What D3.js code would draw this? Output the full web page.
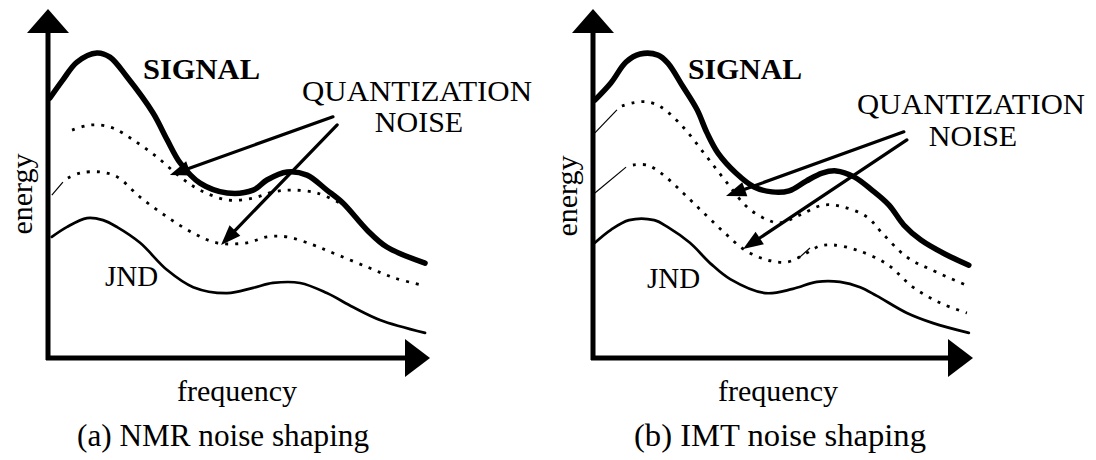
<!DOCTYPE html>
<html><head><meta charset="utf-8">
<script src="https://cdn.jsdelivr.net/npm/d3@7"></script>
<style>
body{margin:0;background:#fff}
svg text{font-family:"Liberation Serif","Times New Roman",serif;fill:#000}
</style>
</head><body>
<svg id="chart" width="1096" height="460"></svg>
<script>
// ---------------- DATA (frequency 0-100 along x axis, energy 0-100 along y axis) ----------------
const captions = ["(a) NMR noise shaping", "(b) IMT noise shaping"];
const xLabel = "frequency";
const yLabel = "energy";
const signalLabel = "SIGNAL";
const noiseLabelLines = ["QUANTIZATION", "NOISE"];
const jndLabel = "JND";

// Panel (a) NMR
const aSignalFreq = [0.5, 3.9, 7.6, 12.8, 16.2, 20.7, 27.5, 31.2, 34.6, 39.8, 46.9, 53.7, 57.3, 62.6, 67.8, 73.0, 77.2, 83.5, 88.7, 98.7];
const aSignalEnergy = [74.5, 79.7, 84.8, 87.4, 86.2, 80.5, 70.2, 62.5, 55.9, 50.1, 47.3, 48.1, 51.0, 53.3, 52.4, 48.1, 44.4, 36.7, 31.8, 27.2];
const aNoiseHiFreq = [6.3, 9.7, 12.8, 17.0, 22.3, 28.5, 34.6, 39.8, 46.9, 53.7, 58.9, 64.1, 70.4, 76.4];
const aNoiseHiEnergy = [65.3, 66.5, 66.8, 65.9, 62.5, 57.6, 51.9, 48.1, 45.3, 45.8, 47.6, 48.1, 47.3, 44.4];
const aNoiseLoFreq = [5.2, 8.4, 13.6, 18.1, 24.1, 31.2, 38.0, 44.2, 52.1, 57.3, 62.6, 69.4, 74.6, 83.5, 90.8, 97.9];
const aNoiseLoEnergy = [51.6, 53.0, 53.3, 51.9, 46.1, 40.4, 35.8, 33.0, 33.0, 34.7, 34.7, 32.4, 30.1, 26.1, 22.9, 20.9];
const aJndFreq = [1.0, 4.9, 10.2, 14.4, 18.1, 24.1, 31.2, 38.0, 46.9, 53.7, 58.9, 66.0, 73.0, 79.8, 86.9, 98.7];
const aJndEnergy = [34.7, 37.5, 40.1, 39.5, 37.5, 33.0, 25.2, 20.3, 18.6, 20.1, 21.5, 21.5, 18.6, 14.6, 10.9, 7.2];
const aStrokeFreq = [[1.0, 3.9]];            // thin pen strokes joining dotted line to axis
const aStrokeEnergy = [[46.7, 50.4]];
const aArrowFromFreq = [74.6, 75.7], aArrowFromEnergy = [69.1, 66.8];
const aArrowToFreq = [31.9, 45.3],   aArrowToEnergy = [52.4, 32.4];

// Panel (b) IMT
const bSignalFreq = [0.5, 4.7, 8.7, 12.4, 17.1, 19.7, 23.7, 27.4, 30.0, 32.9, 37.6, 42.4, 47.1, 51.6, 56.1, 60.3, 64.0, 68.7, 73.4, 77.9, 81.8, 86.3, 92.6, 98.9];
const bSignalEnergy = [73.9, 78.8, 84.8, 87.1, 86.8, 84.5, 77.7, 71.1, 64.5, 58.7, 53.0, 49.0, 47.6, 47.9, 50.7, 53.0, 53.6, 51.9, 48.1, 43.8, 38.1, 33.8, 29.8, 26.6];
const bNoiseHiFreq = [7.6, 10.5, 14.2, 17.9, 23.7, 29.2, 34.7, 40.8, 46.1, 49.2, 54.5, 60.5, 65.8, 72.1, 76.1, 82.6, 89.2, 98.2];
const bNoiseHiEnergy = [72.2, 73.1, 73.4, 71.9, 66.2, 58.7, 51.0, 43.0, 39.5, 38.7, 41.0, 43.8, 43.3, 40.4, 35.8, 28.9, 25.2, 20.9];
const bNoiseLoFreq = [10.5, 14.2, 17.9, 23.7, 29.2, 34.7, 40.0, 45.8, 51.1, 55.8, 59.7, 63.2, 69.5, 77.4, 84.2, 91.3, 98.4];
const bNoiseLoEnergy = [55.3, 55.3, 53.0, 47.3, 41.5, 35.8, 30.9, 28.1, 27.5, 29.8, 32.1, 32.4, 30.9, 26.9, 20.3, 15.8, 12.9];
const bJndFreq = [0.5, 4.7, 9.5, 16.1, 19.7, 25.5, 31.1, 36.1, 45.3, 52.6, 58.9, 65.0, 70.3, 74.7, 82.6, 89.5, 98.9];
const bJndEnergy = [33.0, 36.7, 39.5, 39.5, 37.5, 33.0, 26.9, 22.6, 18.6, 19.8, 21.8, 21.8, 20.3, 17.8, 12.9, 10.0, 7.2];
const bStrokeFreq = [[0.5, 6.3], [0.5, 8.7], [53.9, 57.1]];
const bStrokeEnergy = [[64.5, 71.1], [47.3, 54.7], [28.4, 31.5]];
const bArrowFromFreq = [81.8, 82.6], bArrowFromEnergy = [64.8, 62.5];
const bArrowToFreq = [35.0, 39.5],   bArrowToEnergy = [46.4, 31.2];

// ---------------- DRAWING ----------------
const svg = d3.select("#chart");
const zip = (f, e) => f.map((v, i) => [v, e[i]]);

const panels = [
  { caption: captions[0], x0: 48, x1: 430, signal: zip(aSignalFreq, aSignalEnergy), hi: zip(aNoiseHiFreq, aNoiseHiEnergy),
    lo: zip(aNoiseLoFreq, aNoiseLoEnergy), jnd: zip(aJndFreq, aJndEnergy),
    strokes: aStrokeFreq.map((f, i) => zip(f, aStrokeEnergy[i])),
    arrows: aArrowFromFreq.map((f, i) => [[f, aArrowFromEnergy[i]], [aArrowToFreq[i], aArrowToEnergy[i]]]),
    sigX: 143, sigW: 117, qX: 417, qW: 230, qY: 101, nY: 132, jndX: 105, jndY: 286, enX: 32, enY: 194, fqX: 237, capX: 223, capW: 292 },
  { caption: captions[1], x0: 593, x1: 973, signal: zip(bSignalFreq, bSignalEnergy), hi: zip(bNoiseHiFreq, bNoiseHiEnergy),
    lo: zip(bNoiseLoFreq, bNoiseLoEnergy), jnd: zip(bJndFreq, bJndEnergy),
    strokes: bStrokeFreq.map((f, i) => zip(f, bStrokeEnergy[i])),
    arrows: bArrowFromFreq.map((f, i) => [[f, bArrowFromEnergy[i]], [bArrowToFreq[i], bArrowToEnergy[i]]]),
    sigX: 688, sigW: 114, qX: 971, qW: 228, qY: 114, nY: 146, jndX: 647, jndY: 288, enX: 577, enY: 196, fqX: 778, capX: 780, capW: 292 }
];

const yBase = 358, yTop = 9;

panels.forEach(p => {
  const x = d3.scaleLinear().domain([0, 100]).range([p.x0, p.x1]);
  const y = d3.scaleLinear().domain([0, 100]).range([yBase, yTop]);
  const g = svg.append("g");
  const line = d3.line().x(d => x(d[0])).y(d => y(d[1])).curve(d3.curveCatmullRom.alpha(0.5));

  // axes
  g.append("path").attr("d", `M${x(0) - 2},${y(0)}L${x(100) - 12},${y(0)}`).attr("stroke", "#000").attr("stroke-width", 5).attr("fill", "none");
  g.append("path").attr("d", `M${x(0)},${y(0) + 2}L${x(0)},${y(100) + 12}`).attr("stroke", "#000").attr("stroke-width", 5).attr("fill", "none");
  // arrowheads
  g.append("path").attr("d", `M${x(100)},${y(0)}L${x(100) - 25},${y(0) - 19}L${x(100) - 25},${y(0) + 19}Z`).attr("fill", "#000");
  g.append("path").attr("d", `M${x(0)},${y(100)}L${x(0) - 21},${y(100) + 24}L${x(0) + 21},${y(100) + 24}Z`).attr("fill", "#000");

  // JND
  g.append("path").attr("d", line(p.jnd)).attr("fill", "none").attr("stroke", "#000").attr("stroke-width", 2.7).attr("stroke-linecap", "round");
  // noise dotted curves
  [p.hi, p.lo].forEach(c => g.append("path").attr("d", line(c)).attr("fill", "none").attr("stroke", "#000")
    .attr("stroke-width", 2.8).attr("stroke-dasharray", "3,7"));
  // thin pen strokes
  p.strokes.forEach(s => g.append("path").attr("d", d3.line().x(d => x(d[0])).y(d => y(d[1]))(s))
    .attr("fill", "none").attr("stroke", "#000").attr("stroke-width", 1.2));
  // signal
  g.append("path").attr("d", line(p.signal)).attr("fill", "none").attr("stroke", "#000").attr("stroke-width", 5.5)
    .attr("stroke-linecap", "round").attr("stroke-linejoin", "round");

  // annotation arrows
  p.arrows.forEach(a => {
    const sx = x(a[0][0]), sy = y(a[0][1]), tx = x(a[1][0]), ty = y(a[1][1]);
    const ang = Math.atan2(ty - sy, tx - sx), L = 20, W = 7.5;
    const bx = tx - L * Math.cos(ang), by = ty - L * Math.sin(ang);
    g.append("path").attr("d", `M${sx},${sy}L${bx},${by}`).attr("stroke", "#000").attr("stroke-width", 3.2).attr("stroke-linecap", "round");
    g.append("path").attr("d", `M${tx},${ty}L${bx - W * Math.sin(ang)},${by + W * Math.cos(ang)}L${bx + W * Math.sin(ang)},${by - W * Math.cos(ang)}Z`).attr("fill", "#000");
  });

  // texts
  g.append("text").text(signalLabel).attr("x", p.sigX).attr("y", 79).attr("font-size", 29).attr("font-weight", "bold")
    .attr("textLength", p.sigW).attr("lengthAdjust", "spacingAndGlyphs");
  g.append("text").text(noiseLabelLines[0]).attr("x", p.qX).attr("y", p.qY).attr("font-size", 30).attr("text-anchor", "middle")
    .attr("textLength", p.qW).attr("lengthAdjust", "spacingAndGlyphs");
  g.append("text").text(noiseLabelLines[1]).attr("x", p.qX + 2).attr("y", p.nY).attr("font-size", 30).attr("text-anchor", "middle");
  g.append("text").text(jndLabel).attr("x", p.jndX).attr("y", p.jndY).attr("font-size", 29);
  g.append("text").text(yLabel).attr("transform", `translate(${p.enX},${p.enY}) rotate(-90)`).attr("font-size", 30).attr("text-anchor", "middle");
  g.append("text").text(xLabel).attr("x", p.fqX).attr("y", 401).attr("font-size", 30).attr("text-anchor", "middle");
  g.append("text").text(p.caption).attr("x", p.capX).attr("y", 446).attr("font-size", 31).attr("text-anchor", "middle")
    .attr("textLength", p.capW).attr("lengthAdjust", "spacingAndGlyphs");
});
</script>
</body></html>
